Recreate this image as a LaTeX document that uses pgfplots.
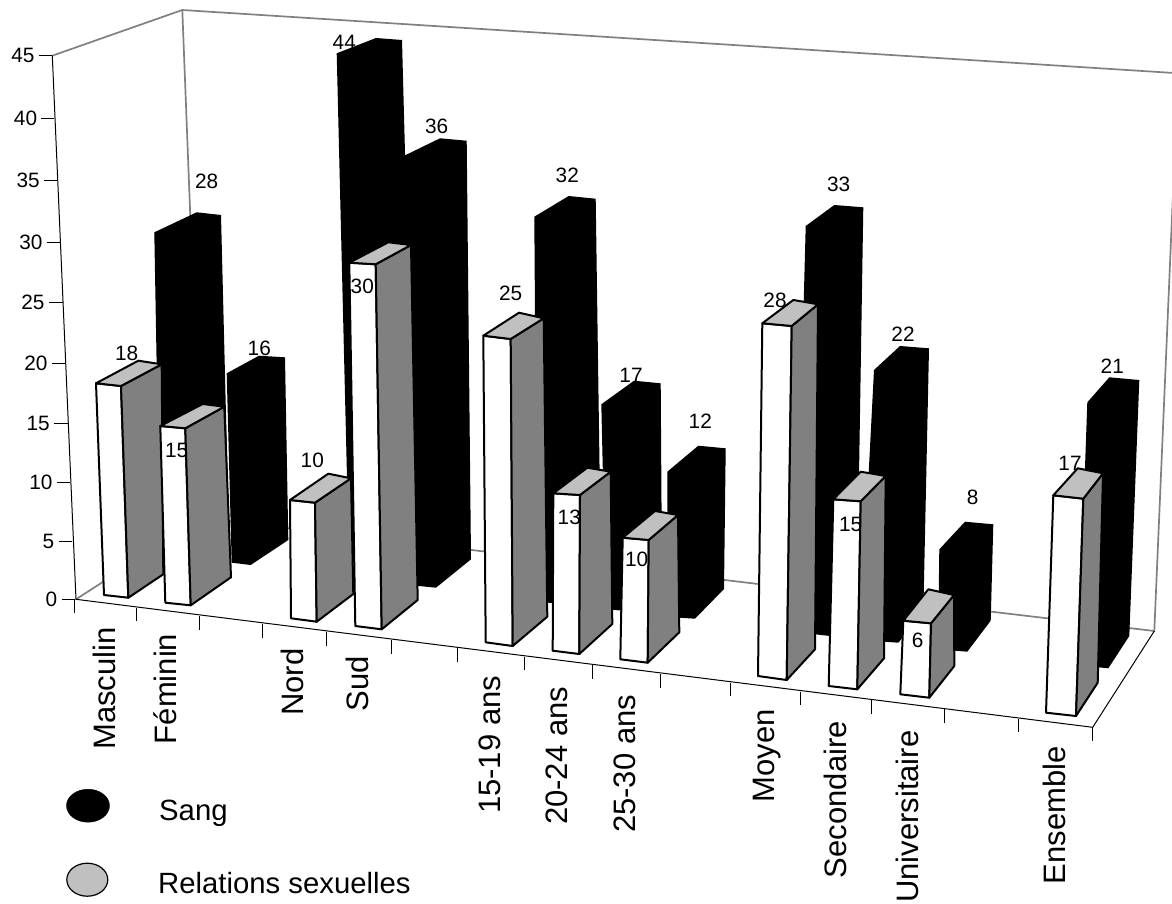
\documentclass[border=0pt]{standalone}
\usepackage{fontspec}
\setmainfont{Liberation Sans}
\usepackage{pgfplots}
\pgfplotsset{compat=1.18}

\definecolor{sidegray}{HTML}{808080}
\definecolor{topgray}{HTML}{C0C0C0}

% value labels, category labels
\newcommand{\vfont}{\fontsize{20.8}{21}\selectfont}
\newcommand{\cfont}{\fontsize{31}{32}\selectfont}

% Sang bar: outline, label position, value
\newcommand{\SangBar}[3]{
  \node[inner sep=0pt,font=\vfont] at #2 {#3};
  \addplot[draw=none,fill=black] coordinates {#1} -- cycle;
}
% Relations bar: top corners A B C D, bottom corners a b c, label position, value
\newcommand{\RelBar}[9]{
  \addplot[draw=black,fill=white,line width=2pt,line join=round] coordinates {#1#2#6#5} -- cycle;
  \node[inner sep=0pt,font=\vfont] at #8 {#9};
  \addplot[draw=black,fill=sidegray,line width=2pt,line join=round] coordinates {#2#3#7#6} -- cycle;
  \addplot[draw=black,fill=topgray,line width=2pt,line join=round] coordinates {#1#4#3#2} -- cycle;
}
\newcommand{\YTick}[5]{
  \addplot[black,line width=1pt] coordinates {(#1,#3) (#2,#3)};
  \node[inner sep=0pt,anchor=east,font=\vfont] at (#4,#3) {#5};
}
\newcommand{\XTick}[2]{
  \addplot[black,line width=0.9pt] coordinates {(#1,#2) (#1,#2+13.5)};
}
\newcommand{\CatLabel}[3]{
  \node[inner sep=0pt,anchor=base west,rotate=90,font=\cfont] at (#1,#2) {#3};
}

\begin{document}
\begin{tikzpicture}
\useasboundingbox (0,0) rectangle (1172pt,904pt);
\begin{axis}[
  at={(0,0)},anchor=south west,
  scale only axis,
  width=1172pt,height=904pt,
  xmin=0,xmax=1172,ymin=0,ymax=904,
  y dir=reverse,
  axis lines=none,
  clip=true,
]
% walls
\addplot[sidegray,line width=1.7pt] coordinates {(52.3,55.7) (182.3,10) (1174,73)};
\addplot[sidegray,line width=1.7pt] coordinates {(182.3,10) (202,518)};
\addplot[sidegray,line width=1.7pt] coordinates {(76,599.3) (202,518) (1154.3,631) (1174,170)};
% floor edges and value axis
\addplot[black,line width=1pt] coordinates {(52.3,55.7) (76,599.3) (1092.7,727.3) (1154.3,631)};

\YTick{39.3}{52.3}{55.7}{34.7}{45}
\YTick{41.3}{54}{118.3}{37.3}{40}
\YTick{44}{57.3}{180.3}{40}{35}
\YTick{46.7}{60.3}{242}{42.7}{30}
\YTick{49.3}{62.7}{302.7}{44.7}{25}
\YTick{52.3}{65.3}{363.3}{47.7}{20}
\YTick{54.3}{67.7}{423}{50}{15}
\YTick{56.7}{70}{482.3}{52.7}{10}
\YTick{59.3}{72.3}{541.3}{54.3}{5}
\YTick{61.7}{75.3}{599.3}{57.3}{0}

\XTick{74.3}{599.3}
\XTick{136}{607.5}
\XTick{199}{616}
\XTick{262.3}{624}
\XTick{326.3}{632}
\XTick{391.7}{640}
\XTick{457.7}{648}
\XTick{524}{656.7}
\XTick{592}{665}
\XTick{660}{674}
\XTick{730}{682.7}
\XTick{800.5}{691.5}
\XTick{871.7}{700}
\XTick{944.3}{709.3}
\XTick{1018.3}{718.7}
\XTick{1092.7}{727.3}

% Sang
\SangBar{(154.3,232.3) (196.7,212.3) (221,215) (229,535) (195,560) (160,555)}{(206.7,181)}{28}
\SangBar{(226.7,373.3) (259,355.7) (285,357.3) (288.3,540) (250.7,565) (231.7,562.7)}{(259.3,348.3)}{16}
\SangBar{(336.7,53.3) (376,38) (402,40) (415,530) (385,565) (349,560)}{(344.3,42.7)}{44}
\SangBar{(402,156.8) (440,138.3) (466.7,140.7) (471,559.3) (436,587.7) (419,586) (405,586)}{(436.7,126.7)}{36}
\SangBar{(534.3,216.7) (568.7,196) (595.7,198.7) (601,570) (575,605) (537,601.7)}{(567.3,175)}{32}
\SangBar{(601.3,404.3) (634,380.7) (660.7,383.3) (662,580) (640,612) (606,609.3)}{(631,375)}{17}
\SangBar{(667.3,471.7) (698.3,445.7) (725.7,448.3) (724,589) (695,618.7) (680,617.7) (668,617)}{(700.3,421)}{12}
\SangBar{(805.7,226) (834.3,205) (863.3,207.3) (857,600) (830,636) (795,632)}{(838.7,184.3)}{33}
\SangBar{(874,370) (900,346) (929,348.3) (923.3,613.3) (898.3,642.7) (860,640)}{(903,334)}{22}
\SangBar{(939.3,549.3) (965,521.7) (993.3,524.3) (990.7,620.7) (967.3,651.7) (955,650.7) (938,650)}{(972.7,497.7)}{8}
\SangBar{(1087.3,402.3) (1109.3,377.3) (1139.3,380) (1129.3,636) (1108.3,668.3) (1098.3,667.3) (1078,665)}{(1112.3,366)}{21}

% Relations sexuelles
\RelBar{(96,383.3)}{(121,386)}{(161.7,364.3)}{(138.3,360.7)}{(104,595)}{(128.3,597.7)}{(163.3,574.3)}{(126.7,353.3)}{18}
\RelBar{(160.3,426)}{(185.3,428.3)}{(224.3,406.7)}{(202.7,404)}{(165.3,602.7)}{(190.7,605.3)}{(231,577.3)}{(176.7,450.7)}{15}
\RelBar{(290,500)}{(315,502.7)}{(351,478.3)}{(328.3,473.7)}{(291,618.3)}{(316.7,621.7)}{(353.3,594)}{(312.3,460.7)}{10}
\RelBar{(349.3,262.7)}{(375.7,264.3)}{(411,245)}{(388.3,242.3)}{(355.3,626)}{(381.7,629.3)}{(417.7,600)}{(362.3,286.7)}{30}
\RelBar{(483.3,335.7)}{(510.7,339)}{(543.7,318.3)}{(519,312.7)}{(485.7,642.3)}{(512.7,646)}{(547.3,616.7)}{(510.7,293.3)}{25}
\RelBar{(553.3,493.3)}{(580,495)}{(610.7,471.7)}{(587.3,467.7)}{(552.7,650.7)}{(579.3,654)}{(612.3,624)}{(569.3,517.3)}{13}
\RelBar{(622.7,537.7)}{(648.7,540)}{(678,515)}{(655,511)}{(620.3,659.3)}{(647.7,662.7)}{(679.3,632.3)}{(636.7,559)}{10}
\RelBar{(762.3,323.3)}{(791.7,326)}{(818,304.3)}{(793.3,300)}{(758,676)}{(786.7,680)}{(815,649.3)}{(775,300)}{28}
\RelBar{(833.3,499.3)}{(860.7,501.3)}{(885.7,476)}{(860.7,471.7)}{(828.7,686)}{(857.3,689.3)}{(884,658.3)}{(850.7,524)}{15}
\RelBar{(903.3,620.7)}{(931,623.3)}{(954,595)}{(928.3,589.3)}{(900.3,694.3)}{(929.3,697.7)}{(954.3,666)}{(917.7,640)}{6}
\RelBar{(1053.3,495.3)}{(1083.3,498.7)}{(1103,473.3)}{(1077.7,468.3)}{(1046,712.7)}{(1076,716)}{(1097.7,682.7)}{(1070,463.3)}{17}

% categories
\CatLabel{115}{750}{Masculin}
\CatLabel{176.7}{744.3}{Féminin}
\CatLabel{303.3}{716}{Nord}
\CatLabel{368.3}{711.7}{Sud}
\CatLabel{500.7}{814}{15-19 ans}
\CatLabel{567.3}{825}{20-24 ans}
\CatLabel{635}{833}{25-30 ans}
\CatLabel{774}{802.3}{Moyen}
\CatLabel{846}{878.3}{Secondaire}
\CatLabel{918.3}{903}{Universitaire}
\CatLabel{1065}{884.3}{Ensemble}

% legend
\draw[fill=black,draw=black] (88,805.7) ellipse [x radius=21.5pt,y radius=16.5pt];
\draw[fill=topgray,draw=black,line width=1.2pt] (87.3,879.7) ellipse [x radius=20.5pt,y radius=16.5pt];
\node[inner sep=0pt,anchor=base west,font=\fontsize{29.3}{30}\selectfont] at (159,820) {Sang};
\node[inner sep=0pt,anchor=base west,font=\fontsize{29.3}{30}\selectfont] at (158,893.3) {Relations sexuelles};
\end{axis}
\end{tikzpicture}
\end{document}
